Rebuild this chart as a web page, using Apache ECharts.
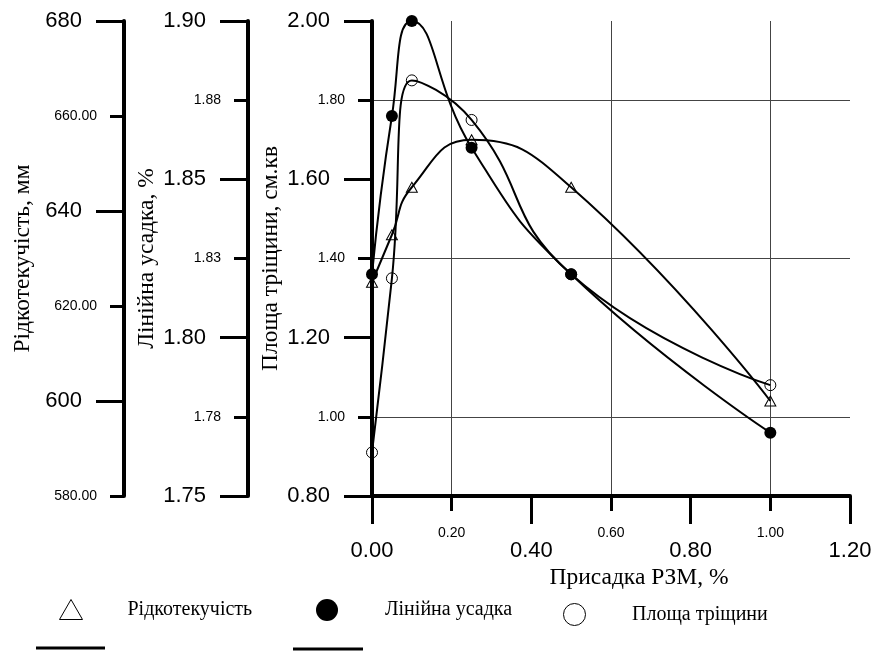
<!DOCTYPE html>
<html>
<head>
<meta charset="utf-8">
<script src="https://cdn.jsdelivr.net/npm/echarts@6/dist/echarts.min.js"></script>
<style>
html, body { margin: 0; padding: 0; background: #fff; }
#chart { width: 877px; height: 653px; }
</style>
</head>
<body>
<div id="chart"></div>
<script>
// Присадка РЗМ, %
var addition = [0, 0.05, 0.1, 0.25, 0.5, 1.0];
// Рідкотекучість, мм
var fluidity = [625, 635, 645, 655, 645, 600];
// Лінійна усадка, %
var shrinkage = [1.82, 1.87, 1.90, 1.86, 1.82, 1.77];
// Площа тріщини, см.кв
var crackArea = [0.91, 1.35, 1.85, 1.75, 1.36, 1.08];

// великі підписи (довгі риски) і малі підписи (короткі риски)
var xBigTicks = [0, 0.4, 0.8, 1.2];
var xSmallTicks = [0.2, 0.6, 1.0];
var areaBigTicks = [0.8, 1.2, 1.6, 2.0];
var areaSmallTicks = [1.0, 1.4, 1.8];
var shrinkBigTicks = [1.75, 1.80, 1.85, 1.90];
var shrinkSmallTicks = [1.775, 1.825, 1.875];
var shrinkSmallLabels = ['1.78', '1.83', '1.88'];
var fluidBigTicks = [600, 640, 680];
var fluidSmallTicks = [580, 620, 660];

var numFont = 'Liberation Sans, Arial, sans-serif';
var textFont = 'Liberation Serif, Times New Roman, serif';

function pairs(ys) {
	return addition.map(function(x, i) {
		return [x, ys[i]];
	});
}

function fixed2(v) {
	return v.toFixed(2);
}

// пара осей: основна (короткі риски, малі підписи) + накладка (довгі риски, великі підписи)
function yPair(offset, min, max, interval, bigTicks, smallTicks, bigFmt, smallFmt, name, split) {
	var main = {
		type : 'value',
		position : 'left',
		offset : offset,
		min : min,
		max : max,
		interval : interval,
		name : name,
		nameLocation : 'middle',
		nameGap : 89,
		nameMoveOverlap : false,
		nameTextStyle : {
			fontFamily : textFont,
			fontSize : 23.5,
			color : '#000'
		},
		axisLine : {
			show : true,
			onZero : false,
			lineStyle : { color : '#000', width : 4 }
		},
		axisTick : {
			show : true,
			customValues : smallTicks,
			length : 14,
			lineStyle : { color : '#000', width : 3 }
		},
		axisLabel : {
			customValues : smallTicks,
			formatter : smallFmt,
			margin : 27,
			fontSize : 14,
			fontFamily : numFont,
			color : '#000'
		},
		splitLine : {
			show : !!split,
			lineStyle : { color : '#444', width : 1 }
		}
	};
	var over = {
		type : 'value',
		position : 'left',
		offset : offset,
		min : min,
		max : max,
		interval : interval,
		axisLine : { show : false, onZero : false },
		axisTick : {
			show : true,
			customValues : bigTicks,
			length : 28,
			lineStyle : { color : '#000', width : 3 }
		},
		axisLabel : {
			customValues : bigTicks,
			formatter : bigFmt,
			margin : 42,
			fontSize : 22,
			fontFamily : numFont,
			color : '#000'
		},
		splitLine : { show : false }
	};
	return [ main, over ];
}

var yAxes = [].concat(
	yPair(0, 0.8, 2.0, 0.2, areaBigTicks, areaSmallTicks, fixed2, fixed2,
		'Площа тріщини, см.кв', true),
	yPair(124, 1.75, 1.90, 0.025, shrinkBigTicks, shrinkSmallTicks, fixed2,
		function(v) {
			var best = 0;
			shrinkSmallTicks.forEach(function(t, i) {
				if (Math.abs(t - v) < Math.abs(shrinkSmallTicks[best] - v)) best = i;
			});
			return shrinkSmallLabels[best];
		}, 'Лінійна усадка, %', false),
	yPair(248, 580, 680, 20, fluidBigTicks, fluidSmallTicks,
		function(v) { return String(v); }, fixed2, 'Рідкотекучість, мм', false)
);

var legendText = {
	fontFamily : textFont,
	fontSize : 20,
	color : '#000'
};

var chart = echarts.init(document.getElementById('chart'), null, { renderer : 'canvas' });
chart.setOption({
	backgroundColor : '#fff',
	animation : false,
	grid : {
		left : 372,
		right : 27,
		top : 21,
		bottom : 157,
		containLabel : false,
		outerBoundsMode : 'none'
	},
	xAxis : [ {
		type : 'value',
		position : 'bottom',
		min : 0,
		max : 1.2,
		interval : 0.2,
		name : 'Присадка РЗМ, %',
		nameLocation : 'middle',
		nameGap : 70,
		nameMoveOverlap : false,
		nameTextStyle : {
			fontFamily : textFont,
			fontSize : 23.5,
			color : '#000',
			padding : [ 0, 0, 0, 56 ]
		},
		axisLine : {
			onZero : false,
			lineStyle : { color : '#000', width : 4 }
		},
		axisTick : {
			customValues : xSmallTicks,
			length : 15,
			lineStyle : { color : '#000', width : 3 }
		},
		axisLabel : {
			customValues : xSmallTicks,
			formatter : fixed2,
			margin : 30,
			fontSize : 14,
			fontFamily : numFont,
			color : '#000'
		},
		splitLine : {
			show : true,
			lineStyle : { color : '#444', width : 1 }
		}
	}, {
		type : 'value',
		position : 'bottom',
		min : 0,
		max : 1.2,
		interval : 0.2,
		axisLine : { show : false, onZero : false },
		axisTick : {
			customValues : xBigTicks,
			length : 28,
			lineStyle : { color : '#000', width : 3 }
		},
		axisLabel : {
			customValues : xBigTicks,
			formatter : fixed2,
			margin : 44,
			fontSize : 22,
			fontFamily : numFont,
			color : '#000'
		},
		splitLine : { show : false }
	} ],
	yAxis : yAxes,
	legend : [ {
		left : 59,
		top : 599,
		padding : 0,
		itemWidth : 23,
		itemHeight : 20,
		selectedMode : false,
		textStyle : Object.assign({ padding : [ 0, 0, 0, 40 ] }, legendText),
		data : [ {
			name : 'Рідкотекучість',
			icon : 'triangle',
			itemStyle : { color : '#fff', borderColor : '#000', borderWidth : 1 }
		} ]
	}, {
		left : 316,
		top : 599,
		padding : 0,
		itemWidth : 22,
		itemHeight : 22,
		selectedMode : false,
		textStyle : Object.assign({ padding : [ 0, 0, 0, 42 ] }, legendText),
		data : [ {
			name : 'Лінійна усадка',
			icon : 'circle',
			itemStyle : { color : '#000', borderColor : '#000', borderWidth : 0 }
		} ]
	}, {
		left : 563,
		top : 603,
		padding : 0,
		itemWidth : 23,
		itemHeight : 22,
		selectedMode : false,
		textStyle : Object.assign({ padding : [ 0, 0, 0, 41 ] }, legendText),
		data : [ {
			name : 'Площа тріщини',
			icon : 'circle',
			itemStyle : { color : '#fff', borderColor : '#000', borderWidth : 1 }
		} ]
	} ],
	graphic : [ {
		type : 'line',
		shape : { x1 : 36, y1 : 648, x2 : 105, y2 : 648 },
		style : { stroke : '#000', lineWidth : 3 }
	}, {
		type : 'line',
		shape : { x1 : 293, y1 : 649, x2 : 363, y2 : 649 },
		style : { stroke : '#000', lineWidth : 3 }
	} ],
	series : [ {
		name : 'Рідкотекучість',
		type : 'line',
		yAxisIndex : 4,
		smooth : true,
		data : pairs(fluidity),
		symbol : 'triangle',
		symbolSize : [ 11, 10 ],
		itemStyle : { color : 'transparent', borderColor : '#000', borderWidth : 1 },
		lineStyle : { color : '#000', width : 2 },
		z : 3
	}, {
		name : 'Лінійна усадка',
		type : 'line',
		yAxisIndex : 2,
		smooth : true,
		data : pairs(shrinkage),
		symbol : 'circle',
		symbolSize : 12,
		itemStyle : { color : '#000', borderColor : '#000', borderWidth : 0 },
		lineStyle : { color : '#000', width : 2 },
		z : 4
	}, {
		name : 'Площа тріщини',
		type : 'line',
		yAxisIndex : 0,
		smooth : true,
		data : pairs(crackArea),
		symbol : 'circle',
		symbolSize : 11,
		itemStyle : { color : 'transparent', borderColor : '#000', borderWidth : 1 },
		lineStyle : { color : '#000', width : 2 },
		z : 3
	} ]
});
</script>
</body>
</html>
